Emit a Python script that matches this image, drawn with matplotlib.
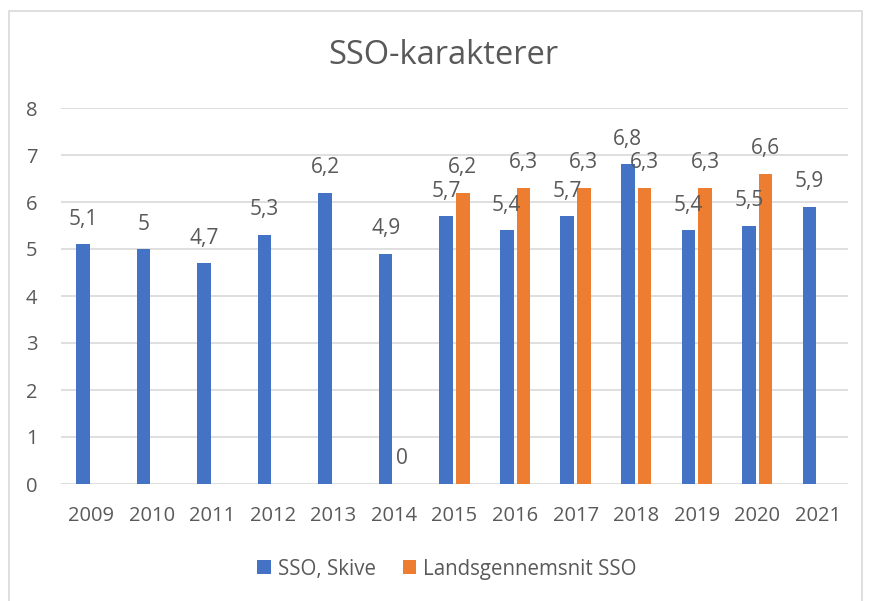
import matplotlib
matplotlib.use("Agg")
import matplotlib.pyplot as plt
import numpy as np
from matplotlib.patches import Rectangle

years = ["2009", "2010", "2011", "2012", "2013", "2014", "2015",
         "2016", "2017", "2018", "2019", "2020", "2021"]
sso_skive = [5.1, 5.0, 4.7, 5.3, 6.2, 4.9, 5.7, 5.4, 5.7, 6.8, 5.4, 5.5, 5.9]
lands_sso = [None, None, None, None, None, 0, 6.2, 6.3, 6.3, 6.3, 6.3, 6.6, None]
series_names = ["SSO, Skive", "Landsgennemsnit SSO"]
title = "SSO-karakterer"

BLUE = "#4472C4"
ORANGE = "#ED7D31"
TXT = "#595959"
GRID = "#D9D9D9"

plt.rcParams['font.family'] = ['Open Sans', 'DejaVu Sans']

W, H = 871, 601
fig = plt.figure(figsize=(W / 100, H / 100), dpi=100)
fig.patch.set_facecolor("white")

# chart border
fig.add_artist(Rectangle((9 / W, -0.05), (862 - 9) / W, 1.05 - 11 / H,
                         transform=fig.transFigure, fill=False,
                         edgecolor=GRID, linewidth=1.2))

left, right = 61 / W, 848 / W
bottom, top = 1 - 484 / H, 1 - 108 / H
ax = fig.add_axes([left, bottom, right - left, top - bottom])

x = np.arange(len(years))
w = 0.225
off = 0.137

b_vals = np.array(sso_skive, dtype=float)
bars1 = ax.bar(x - off, b_vals, width=w, color=BLUE, label=series_names[0], zorder=3)

o_idx = [i for i, v in enumerate(lands_sso) if v is not None]
o_vals = [lands_sso[i] for i in o_idx]
bars2 = ax.bar(np.array(o_idx) + off, o_vals, width=w, color=ORANGE,
               label=series_names[1], zorder=3)

def fmt(v):
    return ("%g" % v).replace(".", ",")

LBL = 15
for xi, v in zip(x - off, b_vals):
    ax.annotate(fmt(v), (xi, v), xytext=(0, 18), textcoords="offset points",
                ha="center", va="center", fontsize=LBL, color=TXT, zorder=4)
for xi, v in zip(np.array(o_idx) + off, o_vals):
    ax.annotate(fmt(v), (xi, v), xytext=(0, 18), textcoords="offset points",
                ha="center", va="center", fontsize=LBL, color=TXT, zorder=4)

ax.set_xlim(-0.5, len(years) - 0.5)
ax.set_ylim(0, 8)
ax.set_yticks(range(0, 9))
ax.set_xticks(x)
ax.set_xticklabels(years)
ax.tick_params(axis="both", length=0, labelsize=14.5, labelcolor=TXT)
ax.tick_params(axis="x", pad=16)
ax.tick_params(axis="y", pad=17)
for s in ax.spines.values():
    s.set_visible(False)
ax.grid(axis="y", color=GRID, linewidth=1.2, zorder=0)
ax.set_axisbelow(True)

fig.text(443 / W, 1 - 55 / H, title, ha="center", va="center",
         fontsize=23.5, color=TXT)

leg = fig.legend(handles=[bars1, bars2], labels=series_names,
                 loc="center", bbox_to_anchor=(447 / W, 1 - 569 / H),
                 ncol=2, frameon=False, fontsize=14.8, labelcolor=TXT,
                 handlelength=0.65, handleheight=0.65, handletextpad=0.35,
                 columnspacing=1.3)

fig.savefig("out.png", dpi=100, facecolor="white")
